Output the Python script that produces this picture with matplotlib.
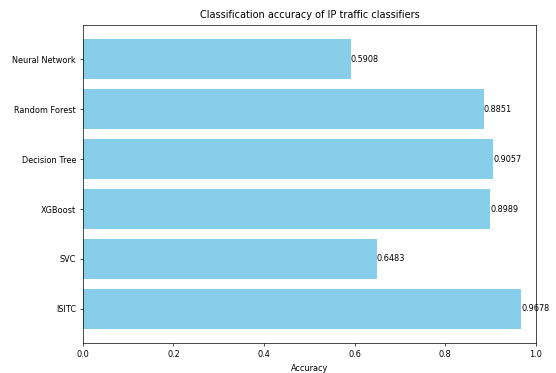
import matplotlib
matplotlib.use("Agg")
import matplotlib.pyplot as plt

models = ["ISITC", "SVC", "XGBoost", "Decision Tree", "Random Forest", "Neural Network"]
accuracy = [0.9678, 0.6483, 0.8989, 0.9057, 0.8851, 0.5908]

plt.rcParams["font.size"] = 5.85

fig, ax = plt.subplots(figsize=(5.56, 3.73), dpi=100)
fig.subplots_adjust(left=0.149, right=0.964, top=0.933, bottom=0.080)

bars = ax.barh(models, accuracy, color="skyblue")
for bar, val in zip(bars, accuracy):
    ax.text(bar.get_width(), bar.get_y() + bar.get_height() / 2, f"{val:.4f}",
            va="center", ha="left", fontsize=5.85)

ax.set_xlim(0, 1.0)
ax.set_xlabel("Accuracy", fontsize=5.85, labelpad=3.5)
ax.set_title("Classification accuracy of IP traffic classifiers", fontsize=7.0, pad=5)
ax.tick_params(length=2.5, width=0.5, pad=2.5)
for s in ax.spines.values():
    s.set_linewidth(0.5)

fig.savefig("out.png", dpi=100)
